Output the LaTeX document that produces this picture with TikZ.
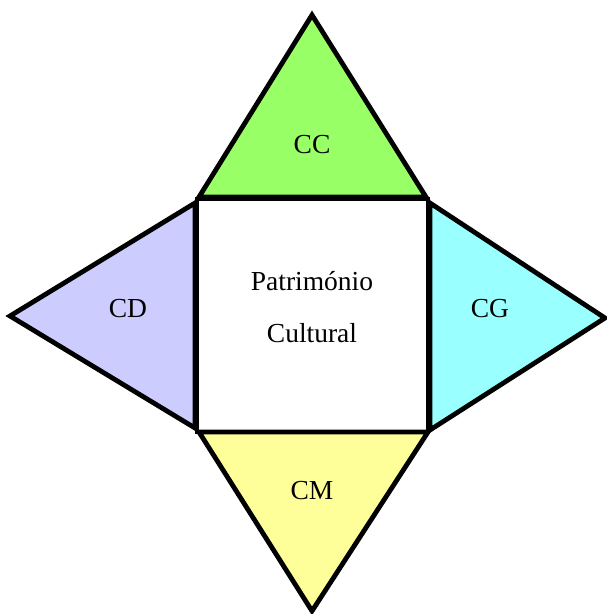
\documentclass[tikz,border=0pt]{standalone}
\usepackage{fontspec}
\setmainfont{Liberation Serif}
\begin{document}
\begin{tikzpicture}[x=1pt,y=-1pt,
  piece/.style={draw=black,line width=4.8pt,line join=miter},
  lbl/.style={anchor=base,inner sep=0pt,font=\fontsize{27.5}{31}\selectfont}]
\definecolor{cgreen}{RGB}{153,255,102}
\definecolor{cpurple}{RGB}{204,204,255}
\definecolor{ccyan}{RGB}{153,255,255}
\definecolor{cyellow}{RGB}{255,255,153}
\useasboundingbox (0,0) rectangle (606,614);
\draw[piece,fill=white] (197,199) rectangle (428,432);
\draw[piece,fill=cgreen] (199,197) -- (312,15) -- (426,197) -- cycle;
\draw[piece,fill=cpurple] (195,203) -- (10,316) -- (195,428) -- cycle;
\draw[piece,fill=ccyan] (430,203) -- (605,318) -- (430,430) -- cycle;
\draw[piece,fill=cyellow] (199,432) -- (312,611) -- (428,432) -- cycle;
\node[lbl] (cc) at (312,153) {CC};
\node[lbl] (cd) at (128,317) {CD};
\node[lbl] (cg) at (490,317) {CG};
\node[lbl] (cm) at (312,499) {CM};
\node[lbl] (p1) at (312,290) {Património};
\node[lbl] (p2) at (312,342) {Cultural};
\end{tikzpicture}
\end{document}
